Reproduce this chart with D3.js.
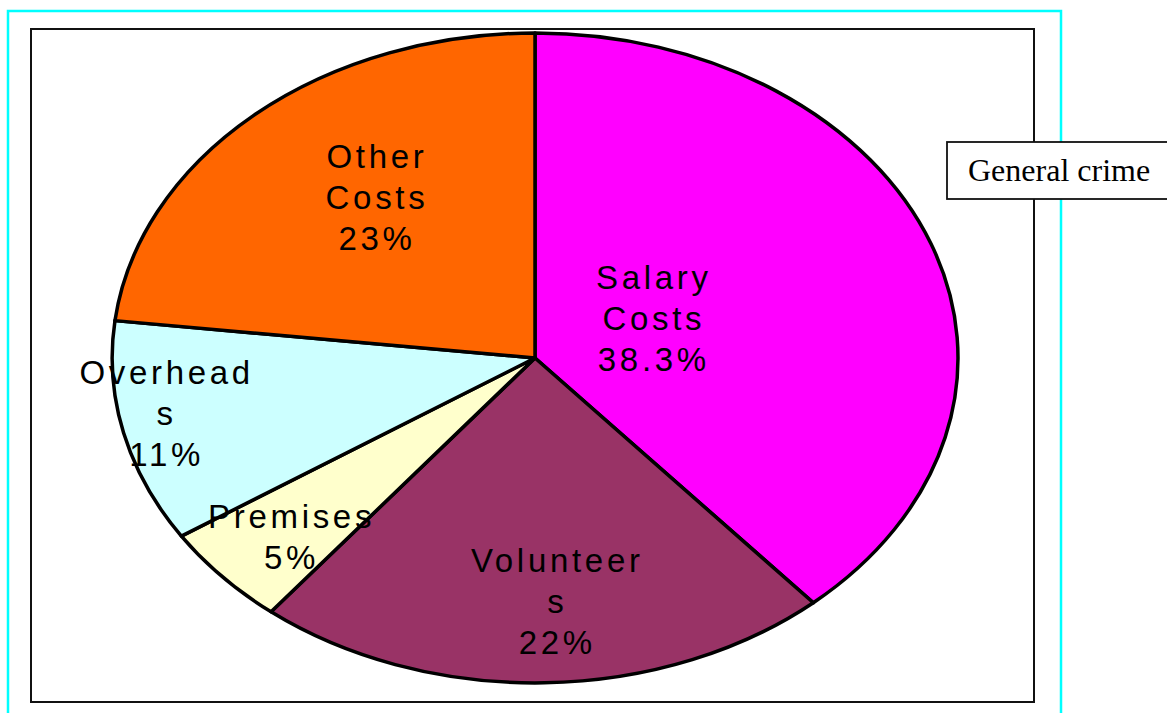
<!DOCTYPE html>
<html>
<head>
<meta charset="utf-8">
<script src="https://cdn.jsdelivr.net/npm/d3@7"></script>
<style>
  html, body { margin: 0; padding: 0; background: #fff; }
  svg { display: block; }
</style>
</head>
<body>
<div id="chart"></div>
<script>
// slice data, clockwise from 12 o'clock
const categories = ["Salary Costs", "Volunteers", "Premises", "Overheads", "Other Costs"];
const values = [38.3, 22, 5, 11, 23];
const percentLabels = ["38.3%", "22%", "5%", "11%", "23%"];
const labelLines = [["Salary", "Costs"], ["Volunteer", "s"], ["Premises"], ["Overhead", "s"], ["Other", "Costs"]];
const colors = ["#ff00ff", "#993366", "#ffffcc", "#ccffff", "#ff6600"];
const legendTitle = "General crime";

const width = 1167, height = 713;
const cx = 535, cy = 358, rx = 423, ry = 325;
// label block placement: fraction of radius along mid-angle, then a small pixel nudge
const labelRadius = [0.29, 0.78, 0.82, 0.89, 0.59];
const labelNudge = [[3, -7], [14, -10], [12, -1], [-3, -12], [7, -18]];

const svg = d3.select("#chart")
    .append("svg")
    .attr("width", width)
    .attr("height", height);

// outer cyan frame
svg.append("rect")
    .attr("x", 8).attr("y", 11)
    .attr("width", 1053).attr("height", 720)
    .attr("fill", "none")
    .attr("stroke", "#00ffff")
    .attr("stroke-width", 2.5);

// plot area frame
svg.append("rect")
    .attr("x", 31).attr("y", 29)
    .attr("width", 1003).attr("height", 673)
    .attr("fill", "none")
    .attr("stroke", "#111")
    .attr("stroke-width", 2);

const data = categories.map((c, i) => ({name: c, value: values[i], i}));

const pie = d3.pie()
    .sort(null)
    .value(d => d.value);

const arcs = pie(data);

const arc = d3.arc().innerRadius(0).outerRadius(1);

const g = svg.append("g")
    .attr("transform", `translate(${cx},${cy}) scale(${rx},${ry})`);

g.selectAll("path")
    .data(arcs)
    .enter()
    .append("path")
    .attr("d", arc)
    .attr("fill", d => colors[d.data.i])
    .attr("stroke", "#000")
    .attr("stroke-width", 3.5)
    .attr("stroke-linejoin", "round")
    .attr("vector-effect", "non-scaling-stroke");

// labels
const fontSize = 33, lineH = 41;
const labels = svg.append("g")
    .attr("font-family", "'Liberation Sans', Arial, sans-serif")
    .attr("font-size", fontSize)
    .attr("letter-spacing", "3.7px")
    .attr("fill", "#000")
    .attr("text-anchor", "middle");

arcs.forEach(d => {
    const k = labelRadius[d.data.i];
    const [ux, uy] = d3.arc().innerRadius(k).outerRadius(k).centroid(d);
    const [nx, ny] = labelNudge[d.data.i];
    const x = cx + ux * rx + nx, y = cy + uy * ry + ny;
    const lines = labelLines[d.data.i].concat([percentLabels[d.data.i]]);
    const top = y - (lines.length - 1) * lineH / 2 + fontSize * 0.36;
    const t = labels.append("text");
    lines.forEach((ln, j) => {
        t.append("tspan")
            .attr("x", x + 1)
            .attr("y", top + j * lineH)
            .text(ln);
    });
});

// legend box
svg.append("rect")
    .attr("x", 947).attr("y", 142)
    .attr("width", 240).attr("height", 57)
    .attr("fill", "#fff")
    .attr("stroke", "#111")
    .attr("stroke-width", 1.8);

svg.append("text")
    .attr("x", 968).attr("y", 181)
    .attr("font-family", "'Liberation Serif', 'Times New Roman', serif")
    .attr("font-size", 32)
    .attr("fill", "#000")
    .text(legendTitle);
</script>
</body>
</html>
